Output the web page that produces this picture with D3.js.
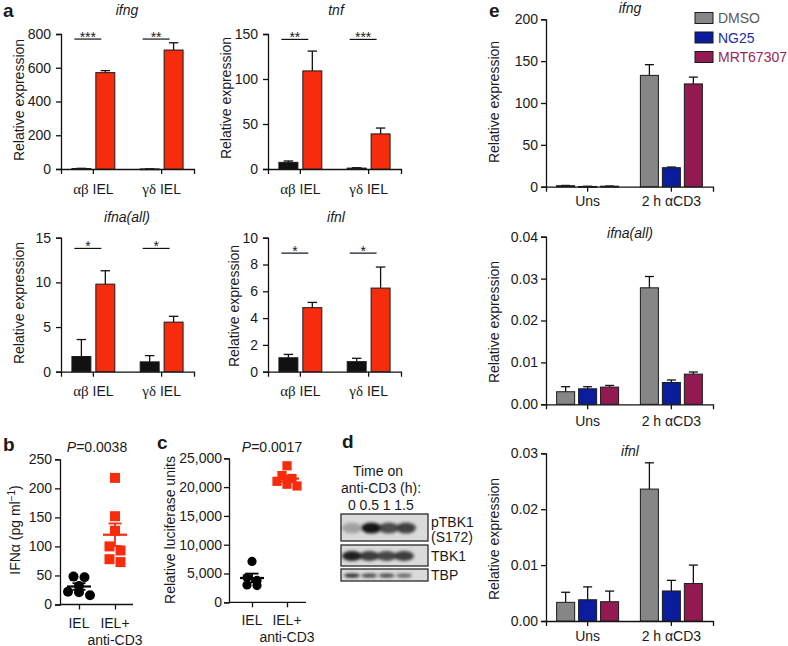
<!DOCTYPE html>
<html><head><meta charset="utf-8">
<script src="https://cdn.jsdelivr.net/npm/d3@7"></script>
<style>
body{margin:0;background:#fff}
text{font-family:"Liberation Sans",Arial,Helvetica,sans-serif;fill:#1a1a1a}
</style>
</head><body>
<svg id="chart" width="788" height="646"></svg>
<script>
// ---------------- DATA ----------------
// panel a
const groupsA = ["αβ IEL", "γδ IEL"];
const seriesA = ["Unstimulated", "anti-CD3"];
const ifngCtrl = [3, 0.5],   ifngCtrlErr = [1, 0.3],   ifngStim = [571, 705], ifngStimErr = [12, 43];
const tnfCtrl  = [7.4, 1],   tnfCtrlErr  = [1.5, 0.4], tnfStim  = [109, 39],  tnfStimErr  = [22, 6.5];
const ifnaCtrl = [1.7, 1.1], ifnaCtrlErr = [1.9, 0.7], ifnaStim = [9.8, 5.55],ifnaStimErr = [1.5, 0.65];
const ifnlCtrl = [1.04, 0.75], ifnlCtrlErr = [0.25, 0.25], ifnlStim = [4.78, 6.24], ifnlStimErr = [0.39, 1.57];
const sigIfng = ["***", "**"], sigTnf = ["**", "***"], sigIfna = ["*", "*"], sigIfnl = ["*", "*"];
const sigHeights = [770, 144, 13.8, 8.85];
const ticksIfng = [0, 200, 400, 600, 800];
const ticksTnf  = [0, 50, 100, 150];
const ticksIfna = [0, 5, 10, 15];
const ticksIfnl = [0, 2, 4, 6, 8, 10];

// panel b
const groupsBC = ["IEL", "IEL+"];
const ifnaProtIEL = [48, 47, 32, 22, 21, 16];
const ifnaProtCD3 = [218, 152, 127, 100, 93, 78, 73];
const ticksB = [0, 50, 100, 150, 200, 250];
const pValueB = "0.0038";

// panel c
const lucIEL = [7100, 4300, 3800, 3000, 2900];
const lucCD3 = [23700, 22000, 21500, 21000, 20500, 20200];
const ticksC = [0, 5000, 10000, 15000, 20000, 25000];
const pValueC = "0.0017";

// panel d (western blot band intensities)
const lanes = ["0", "0.5", "1", "1.5"];
const blotRows = ["pTBK1", "TBK1", "TBP"];
const pTBK1Int = [0.28, 1.0, 0.72, 0.78];
const tbk1Int  = [0.95, 0.8, 0.75, 0.8];
const tbpInt   = [0.9, 0.75, 0.75, 0.6];

// panel e
const eGroups = ["Uns", "2 h αCD3"];
const eSeries = ["DMSO", "NG25", "MRT67307"];
const eIfngDMSO = [1.2, 133],  eIfngDMSOErr = [0.3, 12.8];
const eIfngNG25 = [0.3, 22.7], eIfngNG25Err = [0.2, 0.8];
const eIfngMRT  = [0.6, 122.8],eIfngMRTErr  = [0.2, 8.1];
const eIfnaDMSO = [0.0030, 0.0278], eIfnaDMSOErr = [0.0012, 0.0027];
const eIfnaNG25 = [0.0037, 0.0052], eIfnaNG25Err = [0.0005, 0.0006];
const eIfnaMRT  = [0.0041, 0.0072], eIfnaMRTErr  = [0.0004, 0.0005];
const eIfnlDMSO = [0.00334, 0.0236], eIfnlDMSOErr = [0.0018, 0.0047];
const eIfnlNG25 = [0.0038, 0.00537], eIfnlNG25Err = [0.0023, 0.0019];
const eIfnlMRT  = [0.00345, 0.0067], eIfnlMRTErr  = [0.0019, 0.0033];
const ticksEIfng = [0, 50, 100, 150, 200];
const ticksEIfna = [0, 0.01, 0.02, 0.03, 0.04];
const ticksEIfnl = [0, 0.01, 0.02, 0.03];

// ---------------- STYLE ----------------
const BLACK = "#111111", RED = "#f72c0c";
const C_DMSO = "#868686", C_NG25 = "#0b1d9c", C_MRT = "#921a50";
const LEG_TXT = ["#5a5a5a", "#1d2ca6", "#9a1f57"];
const FS = 14;

const svg = d3.select("#chart");
svg.append("rect").attr("width", 788).attr("height", 646).attr("fill", "#fff");
const defs = svg.append("defs");
defs.append("filter").attr("id", "blur").attr("x", "-50%").attr("y", "-100%").attr("width", "200%").attr("height", "300%")
  .append("feGaussianBlur").attr("stdDeviation", 1.7);

function styleAxis(sel) {
  sel.selectAll("path.domain").attr("stroke", "#111").attr("stroke-width", 1.3);
  sel.selectAll(".tick line").attr("stroke", "#111").attr("stroke-width", 1.3);
  sel.selectAll(".tick text").attr("font-size", FS).attr("fill", "#1a1a1a")
    .style("font-family", '"Liberation Sans",Arial,sans-serif');
}

function yLabel(text, x, y) {
  return svg.append("text").attr("transform", `translate(${x},${y}) rotate(-90)`)
    .attr("text-anchor", "middle").attr("font-size", FS).text(text);
}

function panelLetter(t, x, y) {
  svg.append("text").attr("x", x).attr("y", y).attr("font-size", 19).attr("font-weight", "bold").text(t);
}

function barPanel(o) {
  const g = svg.append("g");
  const x = d3.scaleBand().domain(o.groups).range([o.x0, o.x1]).paddingInner(o.pi).paddingOuter(o.po);
  const xs = d3.scaleBand().domain(d3.range(o.series.length)).range([0, x.bandwidth()]).paddingInner(o.ip);
  const y = d3.scaleLinear().domain([0, o.max]).range([o.yBot, o.yTop]);

  const ya = g.append("g").attr("transform", `translate(${o.x0},0)`)
    .call(d3.axisLeft(y).tickValues(o.ticks).tickFormat(o.fmt).tickSizeOuter(0).tickSize(5).tickPadding(o.tp));
  styleAxis(ya);
  const xa = g.append("g").attr("transform", `translate(0,${o.yBot})`)
    .call(d3.axisBottom(x).tickSizeOuter(0).tickSize(5).tickFormat(""));
  styleAxis(xa);

  const bw = xs.bandwidth();
  const bars = [];
  o.series.forEach((s, si) => s.vals.forEach((v, gi) =>
    bars.push({ v, e: s.errs[gi], color: s.color, x: x(o.groups[gi]) + xs(si) })));

  g.selectAll("line.err").data(bars).join("line").attr("class", "err")
    .attr("x1", d => d.x + bw / 2).attr("x2", d => d.x + bw / 2)
    .attr("y1", d => y(d.v)).attr("y2", d => y(d.v + d.e))
    .attr("stroke", "#111").attr("stroke-width", 1.3);
  g.selectAll("line.cap").data(bars).join("line").attr("class", "cap")
    .attr("x1", d => d.x + bw * 0.25).attr("x2", d => d.x + bw * 0.75)
    .attr("y1", d => y(d.v + d.e)).attr("y2", d => y(d.v + d.e))
    .attr("stroke", "#111").attr("stroke-width", 1.3);
  g.selectAll("rect.bar").data(bars).join("rect").attr("class", "bar")
    .attr("x", d => d.x).attr("width", bw)
    .attr("y", d => y(d.v)).attr("height", d => Math.max(0.8, y(0) - y(d.v)))
    .attr("fill", d => d.color).attr("stroke", "#1a1a1a").attr("stroke-width", 1);

  // group labels
  o.groups.forEach((gr, gi) => {
    const t = g.append("text").attr("x", x(gr) + x.bandwidth() / 2).attr("y", o.labelY)
      .attr("text-anchor", "middle").attr("font-size", FS);
    if (o.greek) {
      const parts = gr.split(" ");
      t.append("tspan").style("font-family", '"Liberation Serif","Times New Roman",serif').attr("font-size", FS + 1).text(parts[0]);
      t.append("tspan").text(" " + parts[1]);
    } else t.text(gr);
  });

  // title
  g.append("text").attr("x", o.titleX).attr("y", o.titleY).attr("text-anchor", "middle")
    .attr("font-size", FS).attr("font-style", "italic").text(o.title);

  // significance
  if (o.sig) {
    o.groups.forEach((gr, gi) => {
      const xa1 = x(gr) + xs(0) + bw / 2 - 7;
      const xa2 = x(gr) + xs(1) + bw / 2 - 4;
      const yy = y(o.sigH);
      g.append("line").attr("x1", xa1).attr("x2", xa2).attr("y1", yy).attr("y2", yy)
        .attr("stroke", "#111").attr("stroke-width", 1.2);
      g.append("text").attr("x", (xa1 + xa2) / 2).attr("y", yy + 2.5).attr("text-anchor", "middle")
        .attr("font-size", 14).text(o.sig[gi]);
    });
  }
  yLabel("Relative expression", o.ylx, o.yly);
  return { x, y };
}

// ---------- panel a ----------
panelLetter("a", 3, 17);
const aGeom = { pi: 0.372, po: 0.16, ip: 0.208, greek: true, tp: 5 };
barPanel(Object.assign({}, aGeom, {
  x0: 61, x1: 194, yTop: 34, yBot: 169, max: 800, ticks: ticksIfng, fmt: d3.format("d"),
  groups: groupsA, series: [{ vals: ifngCtrl, errs: ifngCtrlErr, color: BLACK }, { vals: ifngStim, errs: ifngStimErr, color: RED }],
  title: "ifng", titleX: 127, titleY: 15, labelY: 194, sig: sigIfng, sigH: sigHeights[0], ylx: 24, yly: 100
}));
barPanel(Object.assign({}, aGeom, {
  x0: 268, x1: 401, yTop: 34, yBot: 169, max: 150, ticks: ticksTnf, fmt: d3.format("d"),
  groups: groupsA, series: [{ vals: tnfCtrl, errs: tnfCtrlErr, color: BLACK }, { vals: tnfStim, errs: tnfStimErr, color: RED }],
  title: "tnf", titleX: 336, titleY: 15, labelY: 194, sig: sigTnf, sigH: sigHeights[1], ylx: 231, yly: 98
}));
barPanel(Object.assign({}, aGeom, {
  x0: 61, x1: 194, yTop: 237.7, yBot: 371.7, max: 15, ticks: ticksIfna, fmt: d3.format("d"),
  groups: groupsA, series: [{ vals: ifnaCtrl, errs: ifnaCtrlErr, color: BLACK }, { vals: ifnaStim, errs: ifnaStimErr, color: RED }],
  title: "ifna(all)", titleX: 127, titleY: 222, labelY: 396, sig: sigIfna, sigH: sigHeights[2], ylx: 24, yly: 303
}));
barPanel(Object.assign({}, aGeom, {
  x0: 268, x1: 401, yTop: 237.7, yBot: 371.7, max: 10, ticks: ticksIfnl, fmt: d3.format("d"),
  groups: groupsA, series: [{ vals: ifnlCtrl, errs: ifnlCtrlErr, color: BLACK }, { vals: ifnlStim, errs: ifnlStimErr, color: RED }],
  title: "ifnl", titleX: 336, titleY: 222, labelY: 396, sig: sigIfnl, sigH: sigHeights[3], ylx: 239, yly: 306
}));

// ---------- scatter panels b, c ----------
function swarm(vals, y, thr, sp) {
  const pts = vals.map(v => ({ v })).sort((a, b) => b.v - a.v);
  const clusters = [];
  pts.forEach(p => {
    const c = clusters[clusters.length - 1];
    if (c && Math.abs(y(p.v) - y(c[0].v)) < thr) c.push(p); else clusters.push([p]);
  });
  clusters.forEach(c => c.forEach((p, i) => p.dx = (i - (c.length - 1) / 2) * sp));
  return pts;
}

function scatterPanel(o) {
  const g = svg.append("g");
  const y = d3.scaleLinear().domain([0, o.max]).range([o.yBot, o.yTop]);
  const x = d3.scalePoint().domain(groupsBC).range([o.xa, o.xb]);
  const ya = g.append("g").attr("transform", `translate(${o.x0},0)`)
    .call(d3.axisLeft(y).tickValues(o.ticks).tickFormat(o.fmt).tickSizeOuter(0).tickSize(5).tickPadding(o.tp));
  styleAxis(ya);
  const xa = g.append("g").attr("transform", `translate(0,${o.yBot})`)
    .call(d3.axisBottom(x).tickSizeOuter(0).tickSize(5).tickFormat(""));
  xa.select("path.domain").remove();
  styleAxis(xa);
  g.append("line").attr("x1", o.x0).attr("x2", o.x1).attr("y1", o.yBot).attr("y2", o.yBot)
    .attr("stroke", "#111").attr("stroke-width", 1.3);

  // labels
  g.append("text").attr("x", x(groupsBC[0])).attr("y", o.yBot + 23).attr("text-anchor", "middle").attr("font-size", FS).text(groupsBC[0]);
  g.append("text").attr("x", x(groupsBC[1])).attr("y", o.yBot + 23).attr("text-anchor", "middle").attr("font-size", FS).text(groupsBC[1]);
  g.append("text").attr("x", x(groupsBC[1])).attr("y", o.yBot + 40).attr("text-anchor", "middle").attr("font-size", FS).text("anti-CD3");

  const sets = [{ vals: o.a, color: "#000", shape: "circle" }, { vals: o.b, color: RED, shape: "square" }];
  sets.forEach((s, si) => {
    const cx = x(groupsBC[si]);
    const pts = swarm(s.vals, y, 5.5, o.sp);
    if (s.shape === "circle") {
      g.selectAll(null).data(pts).join("circle").attr("cx", d => cx + d.dx).attr("cy", d => y(d.v))
        .attr("r", o.r).attr("fill", s.color);
    } else {
      g.selectAll(null).data(pts).join("rect").attr("x", d => cx + d.dx - o.r).attr("y", d => y(d.v) - o.r)
        .attr("width", o.r * 2).attr("height", o.r * 2).attr("fill", s.color);
    }
    const m = d3.mean(s.vals), sem = d3.deviation(s.vals) / Math.sqrt(s.vals.length);
    const lc = s.color;
    g.append("line").attr("x1", cx - 12).attr("x2", cx + 12).attr("y1", y(m)).attr("y2", y(m)).attr("stroke", lc).attr("stroke-width", 2.2);
    g.append("line").attr("x1", cx).attr("x2", cx).attr("y1", y(m - sem)).attr("y2", y(m + sem)).attr("stroke", lc).attr("stroke-width", 1.8);
    [m - sem, m + sem].forEach(v => g.append("line").attr("x1", cx - 6.5).attr("x2", cx + 6.5)
      .attr("y1", y(v)).attr("y2", y(v)).attr("stroke", lc).attr("stroke-width", 1.8));
  });

  const pt = g.append("text").attr("x", o.px).attr("y", o.py).attr("text-anchor", "middle").attr("font-size", FS);
  pt.append("tspan").attr("font-style", "italic").text("P");
  pt.append("tspan").text("=" + o.p);
}

panelLetter("b", 3, 451);
scatterPanel({ x0: 60, x1: 133, xa: 79, xb: 115, yTop: 459.3, yBot: 604.5, max: 250, ticks: ticksB, fmt: d3.format("d"),
  a: ifnaProtIEL, b: ifnaProtCD3, r: 5, sp: 11, p: pValueB, px: 97, py: 452, tp: 3 });
{
  const t = svg.append("text").attr("transform", "translate(20,530) rotate(-90)").attr("text-anchor", "middle").attr("font-size", FS);
  t.append("tspan").text("IFNα (pg ml");
  t.append("tspan").attr("dy", -5).attr("font-size", 10).text("−1");
  t.append("tspan").attr("dy", 5).text(")");
}

panelLetter("c", 157, 449);
scatterPanel({ x0: 229, x1: 306, xa: 252, xb: 287, yTop: 458.3, yBot: 602.3, max: 25000, ticks: ticksC, fmt: d3.format(","),
  a: lucIEL, b: lucCD3, r: 4.6, sp: 10, p: pValueC, px: 272, py: 452, tp: 2 });
yLabel("Relative luciferase units", 175, 530);

// ---------- panel d : western blot ----------
panelLetter("d", 342, 448);
svg.append("text").attr("x", 378).attr("y", 476).attr("text-anchor", "middle").attr("font-size", FS).text("Time on");
svg.append("text").attr("x", 381).attr("y", 493).attr("text-anchor", "middle").attr("font-size", FS).text("anti-CD3 (h):");
const lx = d3.scalePoint().domain(lanes).range([352, 404]);
svg.selectAll(null).data(lanes).join("text").attr("x", d => lx(d)).attr("y", 510)
  .attr("text-anchor", "middle").attr("font-size", FS).text(d => d);
const blotGeom = [
  { y0: 514, y1: 541, rx: 10, ry: 5.5, ints: pTBK1Int },
  { y0: 545, y1: 566, rx: 10, ry: 5, ints: tbk1Int },
  { y0: 569, y1: 581, rx: 8, ry: 2, ints: tbpInt }
];
blotGeom.forEach((b, bi) => {
  const g = svg.append("g");
  g.append("rect").attr("x", 341).attr("y", b.y0).attr("width", 87).attr("height", b.y1 - b.y0)
    .attr("fill", "#dadada").attr("stroke", "#2a2a2a").attr("stroke-width", 1.3);
  g.selectAll(null).data(lanes).join("ellipse")
    .attr("cx", (d, i) => lx(d) + (bi === 0 && i > 0 ? 2 : 0)).attr("cy", (b.y0 + b.y1) / 2 + 0.5)
    .attr("rx", b.rx).attr("ry", b.ry)
    .attr("fill", "#181818").attr("opacity", (d, i) => b.ints[i]).attr("filter", "url(#blur)");
});
svg.append("text").attr("x", 431).attr("y", 527).attr("font-size", FS).text(blotRows[0]);
svg.append("text").attr("x", 431).attr("y", 542).attr("font-size", FS).text("(S172)");
svg.append("text").attr("x", 431).attr("y", 561).attr("font-size", FS).text(blotRows[1]);
svg.append("text").attr("x", 431).attr("y", 580).attr("font-size", FS).text(blotRows[2]);

// ---------- panel e ----------
panelLetter("e", 489, 17);
const eGeom = { x0: 546, x1: 713, pi: 0.26, po: 0.127, ip: 0.18, groups: eGroups, ylx: 499, tp: 3 };
barPanel(Object.assign({}, eGeom, {
  yTop: 19.3, yBot: 186.7, max: 200, ticks: ticksEIfng, fmt: d3.format("d"),
  series: [{ vals: eIfngDMSO, errs: eIfngDMSOErr, color: C_DMSO }, { vals: eIfngNG25, errs: eIfngNG25Err, color: C_NG25 }, { vals: eIfngMRT, errs: eIfngMRTErr, color: C_MRT }],
  title: "ifng", titleX: 630, titleY: 13, labelY: 206, yly: 102
}));
barPanel(Object.assign({}, eGeom, {
  yTop: 236.7, yBot: 404.3, max: 0.04, ticks: ticksEIfna, fmt: d3.format(".2f"),
  series: [{ vals: eIfnaDMSO, errs: eIfnaDMSOErr, color: C_DMSO }, { vals: eIfnaNG25, errs: eIfnaNG25Err, color: C_NG25 }, { vals: eIfnaMRT, errs: eIfnaMRTErr, color: C_MRT }],
  title: "ifna(all)", titleX: 630, titleY: 238, labelY: 426, yly: 322
}));
barPanel(Object.assign({}, eGeom, {
  yTop: 453.3, yBot: 621, max: 0.03, ticks: ticksEIfnl, fmt: d3.format(".2f"),
  series: [{ vals: eIfnlDMSO, errs: eIfnlDMSOErr, color: C_DMSO }, { vals: eIfnlNG25, errs: eIfnlNG25Err, color: C_NG25 }, { vals: eIfnlMRT, errs: eIfnlMRTErr, color: C_MRT }],
  title: "ifnl", titleX: 630, titleY: 456, labelY: 641, yly: 539
}));

// legend
const legColors = [C_DMSO, C_NG25, C_MRT];
const leg = svg.append("g");
eSeries.forEach((s, i) => {
  const yy = 12.5 + i * 19.5;
  leg.append("rect").attr("x", 695).attr("y", yy).attr("width", 18).attr("height", 11)
    .attr("fill", legColors[i]).attr("stroke", "#1a1a1a").attr("stroke-width", 1);
  leg.append("text").attr("x", 718).attr("y", yy + 10.5).attr("font-size", FS)
    .style("fill", LEG_TXT[i]).text(s);
});
</script>
</body></html>
